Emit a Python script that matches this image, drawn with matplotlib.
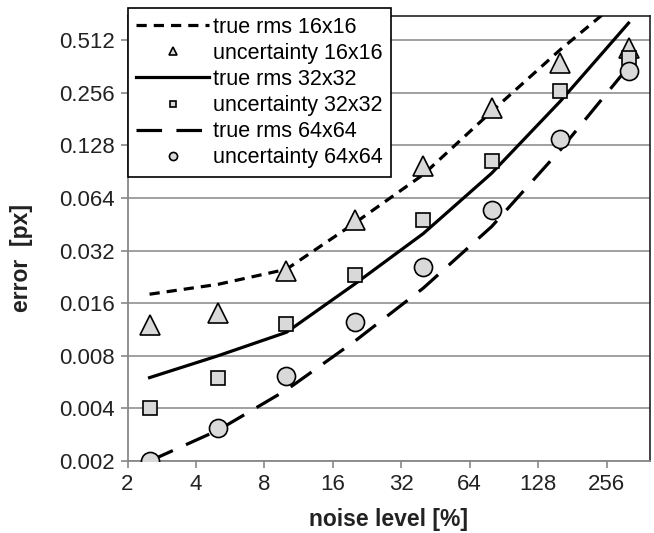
import matplotlib
matplotlib.use('Agg')
import matplotlib.pyplot as plt
from matplotlib.ticker import FixedLocator, FixedFormatter, NullLocator

plt.rcParams['font.family'] = ['Liberation Sans', 'DejaVu Sans']

# niveis de ruido [%]
noise = [2.5, 5, 10, 20, 40, 80, 160, 320]

# erro rms verdadeiro (linhas)
rms_16 = [0.018, 0.0205, 0.025, 0.046, 0.087, 0.2, 0.45, 0.95]
rms_32 = [0.006, 0.008, 0.0109, 0.0206, 0.040, 0.0886, 0.228, 0.64]
rms_64 = [0.002, 0.003, 0.0051, 0.0097, 0.0195, 0.0439, 0.12, 0.36]

# incerteza estimada (marcadores)
unc_16 = [0.012, 0.014, 0.0245, 0.048, 0.097, 0.209, 0.378, 0.46]
unc_32 = [0.004, 0.006, 0.0122, 0.0232, 0.048, 0.104, 0.26, 0.403]
unc_64 = [0.002, 0.00308, 0.00616, 0.0125, 0.0259, 0.0546, 0.139, 0.342]

x_ticks = [2, 4, 8, 16, 32, 64, 128, 256]
y_ticks = [0.002, 0.004, 0.008, 0.016, 0.032, 0.064, 0.128, 0.256, 0.512]

fig = plt.figure(figsize=(6.54, 5.33), dpi=100)
ax = fig.add_axes([0.195, 0.135, 0.799, 0.8355])

fill = '#d9d9d9'
ax.plot(noise, rms_16, color='black', lw=2.3, ls=(0, (3.2, 2.2)), label='true rms 16x16', zorder=3)
ax.plot(noise, unc_16, ls='none', marker='^', ms=14, mfc=fill, mec='black', mew=1.2,
        label='uncertainty 16x16', zorder=4)
ax.plot(noise, rms_32, color='black', lw=2.3, ls='-', label='true rms 32x32', zorder=3)
ax.plot(noise, unc_32, ls='none', marker='s', ms=10.5, mfc=fill, mec='black', mew=1.2,
        label='uncertainty 32x32', zorder=4)
ax.plot(noise, rms_64, color='black', lw=2.3, ls=(0, (8, 4.5)), label='true rms 64x64', zorder=3)
ax.plot(noise, unc_64, ls='none', marker='o', ms=13, mfc=fill, mec='black', mew=1.2,
        label='uncertainty 64x64', zorder=4)

ax.set_xscale('log', base=2)
ax.set_yscale('log', base=2)
ax.set_xlim(2, 398)
ax.set_ylim(0.002, 0.705)

ax.xaxis.set_major_locator(FixedLocator(x_ticks))
ax.xaxis.set_major_formatter(FixedFormatter([str(v) for v in x_ticks]))
ax.xaxis.set_minor_locator(NullLocator())
ax.yaxis.set_major_locator(FixedLocator(y_ticks))
ax.yaxis.set_major_formatter(FixedFormatter([f'{v:g}' for v in y_ticks]))
ax.yaxis.set_minor_locator(NullLocator())

ax.tick_params(axis='both', labelsize=16, color='#888888', length=5, width=1.2,
               labelcolor='#222222', pad=4)
ax.grid(True, axis='y', color='#999999', lw=1.3)
ax.set_axisbelow(True)
for s in ['left', 'bottom']:
    ax.spines[s].set_color('#888888')
    ax.spines[s].set_linewidth(1.3)
for s in ['top', 'right']:
    ax.spines[s].set_color('#222222')
    ax.spines[s].set_linewidth(1.2)

ax.set_xlabel('noise level [%]', fontsize=16.5, fontweight='bold', color='#222222')
ax.set_ylabel('error  [px]', fontsize=16.5, fontweight='bold', color='#222222')
ax.xaxis.set_label_coords(0.5, -0.105)
ax.yaxis.set_label_coords(-0.181, 0.456)

leg = ax.legend(loc='upper left', bbox_to_anchor=(127.5 / 654, 1 - 8 / 533),
                bbox_transform=fig.transFigure, borderaxespad=0, fontsize=15.5,
                fancybox=False, framealpha=1, edgecolor='black', markerscale=0.45,
                handlelength=3.4, handletextpad=0.15, labelspacing=0.24,
                borderpad=0.4)
leg.get_frame().set_linewidth(1.2)
leg.set_zorder(10)

fig.savefig('out.png', dpi=100)
